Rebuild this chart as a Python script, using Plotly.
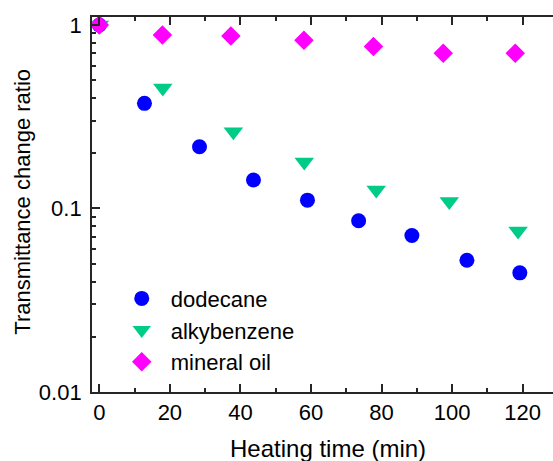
import plotly.graph_objects as go

# Heating time (min) and transmittance change ratio for each liquid
dodecane_t = [0, 12.8, 28.4, 43.7, 59.0, 73.5, 88.6, 104.2, 119.2]
dodecane_r = [1.0, 0.374, 0.217, 0.143, 0.111, 0.0857, 0.0713, 0.0522, 0.0446]

alkyl_t = [0, 18.0, 38.0, 58.1, 78.5, 99.2, 118.7]
alkyl_r = [1.0, 0.453, 0.262, 0.179, 0.126, 0.109, 0.0755]

oil_t = [0, 17.9, 37.3, 58.0, 77.7, 97.5, 117.9]
oil_r = [1.0, 0.883, 0.871, 0.826, 0.763, 0.702, 0.702]

x_ticks = [0, 20, 40, 60, 80, 100, 120]
y_ticks = [0.01, 0.1, 1]
y_ticklabels = ["0.01", "0.1", "1"]

FONT = "Liberation Sans, Arial, sans-serif"
AXIS_COLOR = "#262626"
Y_RANGE = [-2, 0.0435]

fig = go.Figure()
fig.add_trace(go.Scatter(x=dodecane_t, y=dodecane_r, mode="markers", name="dodecane",
                         marker=dict(symbol="circle", size=15, color="#0000FF"),
                         cliponaxis=False))
fig.add_trace(go.Scatter(x=alkyl_t, y=alkyl_r, mode="markers", name="alkybenzene",
                         marker=dict(symbol="triangle-down", size=17, color="#00CC88"),
                         cliponaxis=False))
fig.add_trace(go.Scatter(x=oil_t, y=oil_r, mode="markers", name="mineral oil",
                         marker=dict(symbol="diamond", size=15, color="#FF00FF"),
                         cliponaxis=False))

fig.update_layout(
    width=553, height=461,
    margin=dict(l=92, r=0, t=17, b=69),
    paper_bgcolor="white", plot_bgcolor="white",
    font=dict(family=FONT, size=22, color="black"),
    showlegend=True,
    legend=dict(x=0.045, y=0.305, xanchor="left", yanchor="top",
                bgcolor="rgba(0,0,0,0)", font=dict(size=22),
                itemwidth=48, tracegroupgap=0),
    xaxis=dict(range=[-2.07, 128.6], tickvals=x_ticks, ticks="inside", ticklen=8,
               tickwidth=1.5, tickcolor=AXIS_COLOR, showline=True, linecolor=AXIS_COLOR,
               linewidth=1.8, mirror="ticks", showgrid=False, zeroline=False,
               minor=dict(dtick=10, tick0=0, ticks="inside", ticklen=4, tickcolor=AXIS_COLOR),
               tickfont=dict(size=22)),
    yaxis=dict(type="log", range=Y_RANGE, tickvals=y_ticks, ticktext=y_ticklabels,
               ticks="inside", ticklen=8, tickwidth=1.5, tickcolor=AXIS_COLOR,
               showline=True, linecolor=AXIS_COLOR, linewidth=1.8, mirror=False,
               showgrid=False, zeroline=False,
               minor=dict(ticks="inside", ticklen=4, tickcolor=AXIS_COLOR,
                          tickvals=[m * d for d in (0.01, 0.1) for m in range(2, 10)]),
               tickfont=dict(size=22), ticklabelstandoff=4),
    # right-hand decade ticks without a frame line
    yaxis2=dict(type="log", range=Y_RANGE, overlaying="y", side="right", anchor="x",
                tickvals=y_ticks, showticklabels=False, ticks="inside", ticklen=4,
                tickwidth=1.5, tickcolor=AXIS_COLOR, showline=False, showgrid=False,
                zeroline=False),
    annotations=[
        dict(text="Heating time (min)", xref="paper", yref="paper", x=0.512, y=-0.152,
             xanchor="center", yanchor="middle", showarrow=False, font=dict(size=24)),
        dict(text="Transmittance change ratio", xref="paper", yref="paper", x=-0.150, y=0.507,
             xanchor="center", yanchor="middle", textangle=-90, showarrow=False,
             font=dict(size=22)),
    ],
)

fig.write_html("out.html")
